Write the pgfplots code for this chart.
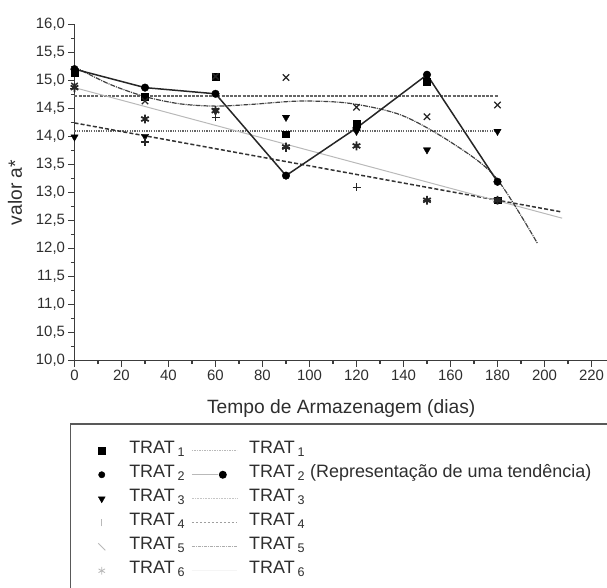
\documentclass[border=0pt]{standalone}
\usepackage{fontspec}
\setmainfont{Liberation Sans}
\usepackage{pgfplots}
\pgfplotsset{compat=1.18}

\definecolor{axc}{HTML}{3C3C3C}
\definecolor{txt}{HTML}{2E2E2E}

\pgfplotstableread{
d   t1     t2     t3     t4     t5     t6
0   15.13  15.20  13.99  14.85  14.90  14.87
30  14.71  14.87  14.00  13.90  14.63  14.31
60  15.07  14.76  14.46  14.34  15.07  14.46
90  14.04  13.30  14.34  13.80  15.05  13.81
120 14.22  14.15  14.09  13.09  14.52  13.83
150 14.97  15.10  13.76  12.86  14.35  12.86
180 12.86  13.19  14.09  12.86  14.56  12.86
}\means

\pgfplotstableread{
d     v
0     15.24
15    14.93
30    14.71
45    14.58
60    14.54
75    14.57
96    14.63
117   14.59
139   14.38
160   13.90
179   13.28
197   12.09
}\curvefive

\pgfplotsset{
  lgsq/.style={legend image code/.code={\path[draw=none,fill=none] (0bp,-5bp) rectangle (17bp,5bp);
     \draw[black, line width=0.4bp, mark=square*, mark size=3.2bp] plot coordinates {(8.5bp,0bp)};}},
  lgci/.style={legend image code/.code={\path[draw=none,fill=none] (0bp,-5bp) rectangle (17bp,5bp);
     \draw[black, line width=0.4bp, mark=*, mark size=3.2bp] plot coordinates {(8.5bp,0bp)};}},
  lgtr/.style={legend image code/.code={\path[draw=none,fill=none] (0bp,-5bp) rectangle (17bp,5bp);
     \draw[black, line width=0.4bp, mark=triangle*, mark size=4bp, mark options={rotate=180}] plot coordinates {(8.5bp,0bp)};}},
  lgpl/.style={legend image code/.code={\path[draw=none,fill=none] (0bp,-5bp) rectangle (17bp,5bp);
     \draw[gray!55, line width=0.8bp] (8.5bp,-3.5bp) -- (8.5bp,3.5bp);}},
  lgbs/.style={legend image code/.code={\path[draw=none,fill=none] (0bp,-5bp) rectangle (17bp,5bp);
     \draw[gray!55, line width=0.8bp] (5bp,3.5bp) -- (12bp,-3.5bp);}},
  lgas/.style={legend image code/.code={\path[draw=none,fill=none] (0bp,-5bp) rectangle (17bp,5bp);
     \draw[gray!55, line width=0.8bp, mark=asterisk, mark size=3.8bp] plot coordinates {(8.5bp,0bp)};}},
  lgln/.style={legend image code/.code={\path[draw=none,fill=none] (0bp,-5bp) rectangle (45bp,5bp);
     \draw[#1] (0bp,0bp) -- (45bp,0bp);}},
  lgtwo/.style={legend image code/.code={\path[draw=none,fill=none] (0bp,-5bp) rectangle (45bp,5bp);
     \draw[gray!55, line width=1.2bp] (0bp,0bp) -- (26bp,0bp);
     \fill[black] (31bp,0bp) circle (3.2bp);}},
}

\begin{document}
\begin{tikzpicture}
\begin{axis}[
  at={(0,0)}, anchor=south west,
  scale only axis, width=533.45bp, height=336.2bp,
  xmin=0, xmax=227, ymin=10, ymax=16,
  axis x line*=bottom, axis y line*=left,
  axis line style={axc, line width=1.5bp, -},
  xtick={0,20,40,60,80,100,120,140,160,180,200,220},
  ytick={10,10.5,11,11.5,12,12.5,13,13.5,14,14.5,15,15.5,16},
  minor x tick num=1, minor y tick num=1,
  tick align=outside,
  major tick length=6bp, minor tick length=3.5bp,
  every tick/.style={axc, line width=1.3bp},
  /pgf/number format/assume math mode=true,
  yticklabel style={/pgf/number format/.cd, use comma, fixed, fixed zerofill, precision=1},
  tick label style={font=\fontsize{15}{17}\selectfont, color=txt},
  xlabel={Tempo de Armazenagem (dias)},
  ylabel={valor a*},
  label style={font=\fontsize{19.3}{21}\selectfont, color=txt},
  xlabel style={at={(axis description cs:0.5,-0.15616)}, anchor=base},
  ylabel style={at={(axis description cs:-0.1115,0.5)}, anchor=center},
  clip=false,
  legend columns=2,
  legend style={at={(axis description cs:-0.00937,-0.1859)}, anchor=north west,
    draw=axc!85, line width=1.5bp, fill=white,
    inner xsep=23bp, inner ysep=18bp,
    font=\fontsize{18}{19}\selectfont\color{txt},
    row sep=6bp,
    nodes={inner sep=0pt, text height=12bp, text depth=6bp, anchor=west},
    /tikz/column 1/.style={column sep=19bp},
    /tikz/column 2/.style={column sep=6bp},
    /tikz/column 3/.style={column sep=12bp},
  },
]
% trend lines
\addplot[forget plot, gray!80!black, line width=1.8bp, dash pattern=on 3bp off 1.2bp] coordinates {(0,14.72) (180,14.72)};
\addplot[forget plot, gray!80!black, line width=1.6bp, dash pattern=on 1.2bp off 1.2bp] coordinates {(0,14.10) (180,14.10)};
\addplot[forget plot, black!80, line width=1.5bp, dash pattern=on 4bp off 2.2bp] coordinates {(0,14.24) (207.5,12.65)};
\addplot[forget plot, gray!55, line width=1bp] coordinates {(0,14.87) (207.5,12.54)};
\addplot[forget plot, black!75, line width=1.2bp, smooth, tension=0.5, dash pattern=on 5bp off 1bp on 1bp off 1bp] table[x=d, y=v] {\curvefive};
\addplot[forget plot, black!85, line width=1.5bp] table[x=d, y=t2] {\means};
% means
\addplot[forget plot, only marks, black, mark=square*, mark size=3.4bp] table[x=d, y=t1] {\means};
\addplot[forget plot, only marks, black, mark=*, mark size=3.8bp] table[x=d, y=t2] {\means};
\addplot[forget plot, only marks, black, mark=triangle*, mark size=4.2bp, mark options={rotate=180}] table[x=d, y=t3] {\means};
\addplot[forget plot, only marks, black!85, mark=+, mark size=4bp, line width=1.2bp] table[x=d, y=t4] {\means};
\addplot[forget plot, only marks, black!85, mark=x, mark size=4.5bp, line width=1.3bp] table[x=d, y=t5] {\means};
\addplot[forget plot, only marks, black!85, mark=asterisk, mark size=4.4bp, line width=1.8bp] table[x=d, y=t6] {\means};
% legend
\addlegendimage{lgsq}
\addlegendentry{TRAT\hspace{3bp}\textsubscript{1}}
\addlegendimage{lgln={gray!55, line width=0.8bp, dash pattern=on 1.5bp off 1bp}}
\addlegendentry{TRAT\hspace{3bp}\textsubscript{1}}
\addlegendimage{lgci}
\addlegendentry{TRAT\hspace{3bp}\textsubscript{2}}
\addlegendimage{lgtwo}
\addlegendentry{TRAT\hspace{3bp}\textsubscript{2} (Representação de uma tendência)\hspace{60bp}}
\addlegendimage{lgtr}
\addlegendentry{TRAT\hspace{3bp}\textsubscript{3}}
\addlegendimage{lgln={gray!45, line width=0.8bp, dash pattern=on 0.8bp off 0.8bp}}
\addlegendentry{TRAT\hspace{3bp}\textsubscript{3}}
\addlegendimage{lgpl}
\addlegendentry{TRAT\hspace{3bp}\textsubscript{4}}
\addlegendimage{lgln={gray!75, line width=0.8bp, dash pattern=on 2.5bp off 1.5bp}}
\addlegendentry{TRAT\hspace{3bp}\textsubscript{4}}
\addlegendimage{lgbs}
\addlegendentry{TRAT\hspace{3bp}\textsubscript{5}}
\addlegendimage{lgln={gray!65, line width=0.8bp, dash pattern=on 3bp off 1bp on 1bp off 1bp}}
\addlegendentry{TRAT\hspace{3bp}\textsubscript{5}}
\addlegendimage{lgas}
\addlegendentry{TRAT\hspace{3bp}\textsubscript{6}\rule[-20bp]{0pt}{1bp}}
\addlegendimage{lgln={gray!8, line width=0.8bp}}
\addlegendentry{TRAT\hspace{3bp}\textsubscript{6}}
\end{axis}
\pgfresetboundingbox
\path[use as bounding box] (-74.5bp,-227.5bp) rectangle (532.5bp,360.5bp);
\end{tikzpicture}
\end{document}
